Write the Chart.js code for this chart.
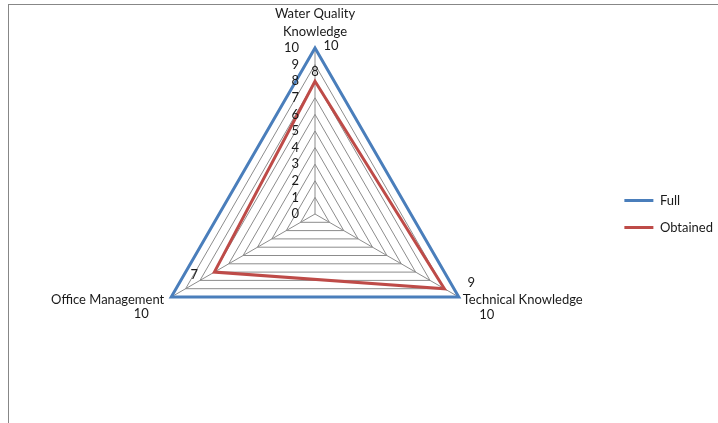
<!DOCTYPE html>
<html>
<head>
<meta charset="utf-8">
<script src="https://cdn.jsdelivr.net/npm/chart.js@4/dist/chart.umd.min.js"></script>
<style>
  html, body { margin: 0; padding: 0; background: #fff; }
  #wrap { position: relative; width: 718px; height: 423px; overflow: hidden; }
  #frame { position: absolute; left: 8px; top: 4px; width: 800px; height: 500px;
           border-left: 1px solid #878787; border-top: 1px solid #878787; box-sizing: border-box; }
  canvas { position: absolute; left: 0; top: 0; }
</style>
</head>
<body>
<div id="wrap">
  <div id="frame"></div>
  <canvas id="chart" width="718" height="423"></canvas>
</div>
<script>
// Skill areas (axes) and scores
const categories = [['Water Quality', 'Knowledge'], ['Technical Knowledge'], ['Office Management']];
const fullScores = [10, 10, 10];
const obtainedScores = [8, 9, 7];
const scaleMin = 0;
const scaleMax = 10;
const scaleStep = 1;

const FONT = '13px Lato, "Open Sans", sans-serif';
const TEXT = '#1a1a1a';

// Text drawn around the radar: tick values, axis names and value labels
const radarText = {
  id: 'radarText',
  afterDatasetsDraw(chart) {
    const r = chart.scales.r;
    const ctx = chart.ctx;
    ctx.save();
    ctx.font = FONT;
    ctx.fillStyle = TEXT;
    ctx.textBaseline = 'middle';

    // tick values along the first axis
    ctx.textAlign = 'right';
    r.ticks.forEach(t => {
      const y = r.yCenter - r.getDistanceFromCenterForValue(t.value);
      ctx.fillText(String(t.value), r.xCenter - 16, y);
    });

    // axis names with the "Full" value
    const full = fullScores;
    let p = r.getPointPositionForValue(0, full[0]);
    ctx.textAlign = 'center';
    ctx.fillText(categories[0][0], p.x, p.y - 34);
    ctx.fillText(categories[0][1], p.x, p.y - 16);
    ctx.fillText(String(full[0]), p.x + 16, p.y - 2);

    p = r.getPointPositionForValue(1, full[1]);
    ctx.textAlign = 'left';
    ctx.fillText(categories[1].join(' '), p.x + 4, p.y + 3);
    ctx.textAlign = 'center';
    ctx.fillText(String(full[1]), p.x + 28, p.y + 18);

    p = r.getPointPositionForValue(2, full[2]);
    ctx.textAlign = 'right';
    ctx.fillText(categories[2].join(' '), p.x - 7, p.y + 3);
    ctx.textAlign = 'center';
    ctx.fillText(String(full[2]), p.x - 30, p.y + 17);

    // "Obtained" value labels
    const obt = obtainedScores;
    p = r.getPointPositionForValue(0, obt[0]);
    ctx.fillText(String(obt[0]), p.x, p.y - 9);
    p = r.getPointPositionForValue(1, obt[1]);
    ctx.fillText(String(obt[1]), p.x + 27, p.y - 6);
    p = r.getPointPositionForValue(2, obt[2]);
    ctx.fillText(String(obt[2]), p.x - 20, p.y + 3);

    ctx.restore();
  }
};

new Chart(document.getElementById('chart'), {
  type: 'radar',
  data: {
    labels: categories.map(c => c.join(' ')),
    datasets: [
      {
        label: 'Full',
        data: fullScores,
        borderColor: '#4a7ebb',
        backgroundColor: '#4a7ebb',
        borderWidth: 3,
        borderJoinStyle: 'miter',
        pointRadius: 0,
        fill: false
      },
      {
        label: 'Obtained',
        data: obtainedScores,
        borderColor: '#be4b48',
        backgroundColor: '#be4b48',
        borderWidth: 3,
        borderJoinStyle: 'miter',
        pointRadius: 0,
        fill: false
      }
    ]
  },
  options: {
    responsive: false,
    animation: false,
    layout: { padding: { top: 48, bottom: 43, left: 20, right: -5 } },
    plugins: {
      legend: {
        position: 'right',
        labels: {
          usePointStyle: true,
          pointStyle: 'line',
          pointStyleWidth: 29,
          padding: 14,
          color: TEXT,
          font: { family: 'Lato, "Open Sans", sans-serif', size: 13 }
        }
      },
      tooltip: { enabled: false }
    },
    scales: {
      r: {
        min: scaleMin,
        max: scaleMax,
        ticks: { display: false, stepSize: scaleStep },
        grid: { color: '#8c8c8c', lineWidth: 1 },
        angleLines: { color: '#8c8c8c', lineWidth: 1 },
        pointLabels: { display: false }
      }
    }
  },
  plugins: [radarText]
});
</script>
</body>
</html>
